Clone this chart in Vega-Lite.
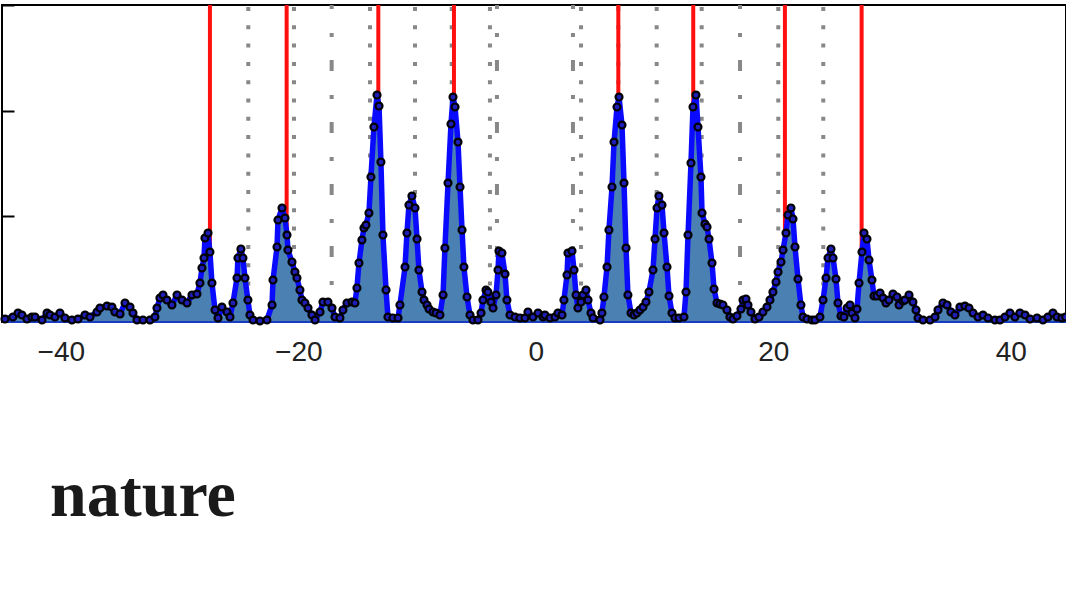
{
  "$schema": "https://vega.github.io/schema/vega-lite/v6.json",
  "width": 1064,
  "height": 317,
  "autosize": {"type": "none"},
  "padding": {"left": 2, "top": 5, "right": 0, "bottom": 278},
  "background": "white",
  "config": {"view": {"stroke": "#000000", "strokeWidth": 2}},
  "title": {"text": "nature", "orient": "bottom", "anchor": "start", "frame": "group", "font": "Liberation Serif", "fontWeight": "bold", "fontSize": 66, "color": "#1a1a1a", "offset": 150, "dx": 48, "baseline": "alphabetic"},
  "datasets": {
    "rules": [
      {"x": -27.44, "kind": "red"}, {"x": -20.98, "kind": "red"}, {"x": -13.26, "kind": "red"}, {"x": -6.89, "kind": "red"},
      {"x": 6.95, "kind": "red"}, {"x": 13.26, "kind": "red"}, {"x": 20.98, "kind": "red"}, {"x": 27.44, "kind": "red"},
      {"x": -24.21, "kind": "dot"}, {"x": -20.36, "kind": "dot"}, {"x": -13.96, "kind": "dot"}, {"x": -10.17, "kind": "dot"},
      {"x": -7.08, "kind": "dot"}, {"x": -3.86, "kind": "dot"}, {"x": 3.81, "kind": "dot"}, {"x": 6.95, "kind": "dot"},
      {"x": 10.18, "kind": "dot"}, {"x": 13.97, "kind": "dot"}, {"x": 20.42, "kind": "dot"}, {"x": 24.21, "kind": "dot"},
      {"x": -17.19, "kind": "dashdot"}, {"x": -3.27, "kind": "dashdot"}, {"x": 3.13, "kind": "dashdot"}, {"x": 17.2, "kind": "dashdot"}
    ],
    "pts": [
      {"x":-44.70,"y":0.028},{"x":-44.03,"y":0.047},{"x":-43.60,"y":0.085},{"x":-43.27,"y":0.066},{"x":-42.85,"y":0.028},{"x":-42.43,"y":0.047},{"x":-42.17,"y":0.047},{"x":-41.58,"y":0.019},{"x":-41.16,"y":0.085},{"x":-40.91,"y":0.066},{"x":-40.49,"y":0.047},{"x":-40.07,"y":0.085},{"x":-39.65,"y":0.038},{"x":-39.06,"y":0.019},{"x":-38.55,"y":0.028},{"x":-37.96,"y":0.066},{"x":-37.54,"y":0.047},{"x":-36.95,"y":0.095},{"x":-36.70,"y":0.132},{"x":-36.11,"y":0.151},{"x":-35.69,"y":0.142},{"x":-35.44,"y":0.095},{"x":-35.01,"y":0.076},{"x":-34.59,"y":0.180},{"x":-34.17,"y":0.142},{"x":-33.92,"y":0.085},{"x":-33.58,"y":0.019},{"x":-33.08,"y":0.019},{"x":-32.49,"y":0.019},{"x":-32.07,"y":0.047},{"x":-31.90,"y":0.132},{"x":-31.65,"y":0.227},{"x":-31.39,"y":0.256},{"x":-31.06,"y":0.208},{"x":-30.64,"y":0.161},{"x":-30.21,"y":0.256},{"x":-29.79,"y":0.208},{"x":-29.37,"y":0.180},{"x":-28.95,"y":0.256},{"x":-28.53,"y":0.265},{"x":-28.28,"y":0.369},{"x":-28.11,"y":0.511},{"x":-27.94,"y":0.606},{"x":-27.86,"y":0.795},{"x":-27.60,"y":0.842},{"x":-27.44,"y":0.662},{"x":-27.27,"y":0.369},{"x":-27.01,"y":0.114},{"x":-26.76,"y":0.038},{"x":-26.43,"y":0.142},{"x":-26.00,"y":0.095},{"x":-25.75,"y":0.047},{"x":-25.50,"y":0.180},{"x":-25.16,"y":0.416},{"x":-25.08,"y":0.606},{"x":-24.83,"y":0.691},{"x":-24.66,"y":0.606},{"x":-24.49,"y":0.416},{"x":-24.24,"y":0.208},{"x":-24.07,"y":0.066},{"x":-23.81,"y":0.019},{"x":-23.23,"y":0.01},{"x":-22.64,"y":0.019},{"x":-22.21,"y":0.161},{"x":-22.13,"y":0.397},{"x":-21.79,"y":0.710},{"x":-21.71,"y":0.965},{"x":-21.37,"y":1.079},{"x":-21.12,"y":0.984},{"x":-20.95,"y":0.823},{"x":-20.87,"y":0.681},{"x":-20.53,"y":0.568},{"x":-20.28,"y":0.473},{"x":-20.11,"y":0.416},{"x":-19.86,"y":0.303},{"x":-19.69,"y":0.208},{"x":-19.44,"y":0.180},{"x":-19.18,"y":0.132},{"x":-18.85,"y":0.066},{"x":-18.59,"y":0.019},{"x":-18.17,"y":0.095},{"x":-17.92,"y":0.189},{"x":-17.50,"y":0.189},{"x":-17.16,"y":0.132},{"x":-16.91,"y":0.047},{"x":-16.49,"y":0.038},{"x":-16.24,"y":0.114},{"x":-15.90,"y":0.180},{"x":-15.48,"y":0.189},{"x":-15.23,"y":0.180},{"x":-15.06,"y":0.322},{"x":-14.89,"y":0.558},{"x":-14.64,"y":0.776},{"x":-14.47,"y":0.890},{"x":-14.30,"y":0.918},{"x":-14.05,"y":1.032},{"x":-13.88,"y":1.372},{"x":-13.63,"y":1.845},{"x":-13.37,"y":2.148},{"x":-13.20,"y":2.044},{"x":-13.04,"y":1.514},{"x":-12.87,"y":0.823},{"x":-12.61,"y":0.303},{"x":-12.45,"y":0.047},{"x":-12.03,"y":0.038},{"x":-11.60,"y":0.038},{"x":-11.44,"y":0.161},{"x":-11.01,"y":0.520},{"x":-10.85,"y":0.842},{"x":-10.68,"y":1.107},{"x":-10.43,"y":1.192},{"x":-10.17,"y":1.079},{"x":-10.00,"y":0.785},{"x":-9.84,"y":0.492},{"x":-9.58,"y":0.284},{"x":-9.41,"y":0.208},{"x":-9.16,"y":0.161},{"x":-8.99,"y":0.123},{"x":-8.66,"y":0.095},{"x":-8.40,"y":0.085},{"x":-8.07,"y":0.066},{"x":-7.81,"y":0.256},{"x":-7.65,"y":0.700},{"x":-7.39,"y":1.315},{"x":-7.14,"y":1.874},{"x":-6.97,"y":2.129},{"x":-6.80,"y":2.035},{"x":-6.55,"y":1.703},{"x":-6.38,"y":1.278},{"x":-6.21,"y":0.871},{"x":-6.05,"y":0.520},{"x":-5.79,"y":0.237},{"x":-5.54,"y":0.066},{"x":-5.29,"y":0.019},{"x":-4.87,"y":0.019},{"x":-4.61,"y":0.085},{"x":-4.45,"y":0.208},{"x":-4.19,"y":0.303},{"x":-4.03,"y":0.284},{"x":-3.77,"y":0.189},{"x":-3.60,"y":0.132},{"x":-3.35,"y":0.256},{"x":-3.18,"y":0.492},{"x":-3.10,"y":0.672},{"x":-2.85,"y":0.653},{"x":-2.59,"y":0.454},{"x":-2.43,"y":0.208},{"x":-2.17,"y":0.066},{"x":-1.75,"y":0.047},{"x":-1.33,"y":0.038},{"x":-0.91,"y":0.038},{"x":-0.66,"y":0.095},{"x":-0.24,"y":0.047},{"x":0.19,"y":0.085},{"x":0.61,"y":0.047},{"x":0.77,"y":0.066},{"x":1.20,"y":0.038},{"x":1.62,"y":0.047},{"x":1.87,"y":0.085},{"x":2.21,"y":0.066},{"x":2.37,"y":0.208},{"x":2.63,"y":0.445},{"x":2.71,"y":0.653},{"x":3.05,"y":0.672},{"x":3.22,"y":0.492},{"x":3.39,"y":0.256},{"x":3.55,"y":0.132},{"x":3.81,"y":0.189},{"x":3.97,"y":0.256},{"x":4.23,"y":0.303},{"x":4.40,"y":0.208},{"x":4.65,"y":0.085},{"x":4.82,"y":0.038},{"x":5.41,"y":0.019},{"x":5.57,"y":0.085},{"x":5.74,"y":0.237},{"x":6.00,"y":0.520},{"x":6.16,"y":0.871},{"x":6.42,"y":1.278},{"x":6.59,"y":1.703},{"x":6.84,"y":2.035},{"x":7.01,"y":2.129},{"x":7.26,"y":1.864},{"x":7.43,"y":1.315},{"x":7.60,"y":0.700},{"x":7.76,"y":0.256},{"x":8.02,"y":0.085},{"x":8.27,"y":0.066},{"x":8.52,"y":0.085},{"x":8.77,"y":0.114},{"x":9.03,"y":0.142},{"x":9.28,"y":0.189},{"x":9.53,"y":0.284},{"x":9.87,"y":0.492},{"x":10.04,"y":0.785},{"x":10.21,"y":1.079},{"x":10.37,"y":1.192},{"x":10.63,"y":1.107},{"x":10.80,"y":0.842},{"x":11.05,"y":0.520},{"x":11.22,"y":0.246},{"x":11.47,"y":0.085},{"x":11.72,"y":0.038},{"x":12.06,"y":0.038},{"x":12.48,"y":0.047},{"x":12.65,"y":0.284},{"x":12.82,"y":0.823},{"x":13.07,"y":1.505},{"x":13.24,"y":2.035},{"x":13.49,"y":2.148},{"x":13.66,"y":1.845},{"x":13.91,"y":1.372},{"x":14.00,"y":1.032},{"x":14.25,"y":0.927},{"x":14.42,"y":0.899},{"x":14.59,"y":0.785},{"x":14.84,"y":0.558},{"x":15.01,"y":0.312},{"x":15.26,"y":0.180},{"x":15.51,"y":0.170},{"x":15.76,"y":0.161},{"x":16.10,"y":0.114},{"x":16.35,"y":0.047},{"x":16.61,"y":0.028},{"x":16.94,"y":0.057},{"x":17.28,"y":0.123},{"x":17.45,"y":0.208},{"x":17.70,"y":0.218},{"x":17.87,"y":0.161},{"x":18.12,"y":0.095},{"x":18.46,"y":0.028},{"x":18.80,"y":0.047},{"x":19.13,"y":0.095},{"x":19.47,"y":0.142},{"x":19.72,"y":0.208},{"x":19.97,"y":0.284},{"x":20.23,"y":0.379},{"x":20.40,"y":0.473},{"x":20.65,"y":0.568},{"x":20.82,"y":0.681},{"x":21.07,"y":0.842},{"x":21.24,"y":1.013},{"x":21.49,"y":1.079},{"x":21.66,"y":0.975},{"x":21.83,"y":0.710},{"x":22.08,"y":0.407},{"x":22.33,"y":0.161},{"x":22.50,"y":0.047},{"x":22.84,"y":0.028},{"x":23.26,"y":0.019},{"x":23.51,"y":0.019},{"x":23.93,"y":0.047},{"x":24.19,"y":0.208},{"x":24.44,"y":0.416},{"x":24.61,"y":0.606},{"x":24.86,"y":0.691},{"x":25.03,"y":0.606},{"x":25.28,"y":0.407},{"x":25.45,"y":0.180},{"x":25.70,"y":0.057},{"x":25.95,"y":0.047},{"x":26.21,"y":0.132},{"x":26.46,"y":0.161},{"x":26.63,"y":0.085},{"x":26.88,"y":0.038},{"x":27.05,"y":0.123},{"x":27.22,"y":0.369},{"x":27.47,"y":0.662},{"x":27.64,"y":0.842},{"x":27.89,"y":0.785},{"x":28.06,"y":0.587},{"x":28.31,"y":0.397},{"x":28.48,"y":0.246},{"x":28.73,"y":0.246},{"x":28.99,"y":0.274},{"x":29.24,"y":0.227},{"x":29.49,"y":0.180},{"x":29.74,"y":0.208},{"x":30.08,"y":0.265},{"x":30.42,"y":0.237},{"x":30.59,"y":0.161},{"x":30.92,"y":0.199},{"x":31.09,"y":0.208},{"x":31.43,"y":0.256},{"x":31.76,"y":0.189},{"x":32.02,"y":0.114},{"x":32.19,"y":0.038},{"x":32.61,"y":0.019},{"x":33.20,"y":0.019},{"x":33.62,"y":0.047},{"x":33.87,"y":0.114},{"x":34.29,"y":0.180},{"x":34.63,"y":0.161},{"x":34.96,"y":0.095},{"x":35.30,"y":0.066},{"x":35.72,"y":0.142},{"x":36.14,"y":0.151},{"x":36.48,"y":0.132},{"x":36.82,"y":0.085},{"x":37.24,"y":0.047},{"x":37.66,"y":0.066},{"x":38.08,"y":0.038},{"x":38.67,"y":0.019},{"x":39.09,"y":0.019},{"x":39.51,"y":0.047},{"x":39.93,"y":0.085},{"x":40.35,"y":0.047},{"x":40.77,"y":0.085},{"x":41.20,"y":0.066},{"x":41.62,"y":0.028},{"x":42.21,"y":0.038},{"x":42.71,"y":0.019},{"x":43.13,"y":0.047},{"x":43.55,"y":0.085},{"x":43.89,"y":0.047},{"x":44.31,"y":0.038},{"x":44.62,"y":0.047}
    ]
  },
  "layer": [
    {
      "data": {"name": "rules"},
      "transform": [{"filter": "datum.kind === 'dot'"}],
      "mark": {"type": "rule", "color": "#888888", "strokeWidth": 4, "strokeDash": [4, 14.3], "strokeDashOffset": -2},
      "encoding": {
        "x": {"field": "x", "type": "quantitative", "scale": {"domain": [-44.95, 44.65], "nice": false, "zero": false},
          "axis": {"values": [-40, -20, 0, 20, 40], "title": null, "grid": false, "domain": false, "tickSize": -10, "tickWidth": 1.5, "tickColor": "#000000", "labelFont": "Liberation Sans", "labelFontSize": 28, "labelColor": "#222222", "labelPadding": 26}}
      }
    },
    {
      "data": {"name": "rules"},
      "transform": [{"filter": "datum.kind === 'dashdot'"}],
      "mark": {"type": "rule", "color": "#888888", "strokeWidth": 4, "strokeDash": [11, 24, 4, 23], "strokeDashOffset": 7},
      "encoding": {"x": {"field": "x", "type": "quantitative"}}
    },
    {
      "data": {"name": "rules"},
      "transform": [{"filter": "datum.kind === 'red'"}],
      "mark": {"type": "rule", "color": "#ff1010", "strokeWidth": 4},
      "encoding": {"x": {"field": "x", "type": "quantitative"}}
    },
    {
      "data": {"name": "pts"},
      "mark": {"type": "area", "color": "#4a80b2", "opacity": 1},
      "encoding": {
        "x": {"field": "x", "type": "quantitative"},
        "y": {"field": "y", "type": "quantitative", "scale": {"domain": [0, 3], "nice": false},
          "axis": {"values": [1, 2, 3], "labels": false, "title": null, "grid": false, "domain": false, "tickSize": -12, "tickWidth": 2, "tickColor": "#000000"}}
      }
    },
    {
      "data": {"name": "pts"},
      "mark": {"type": "rule", "color": "#1a3cc0", "strokeWidth": 2},
      "encoding": {"y": {"datum": 0}}
    },
    {
      "data": {"name": "pts"},
      "mark": {"type": "line", "color": "#0a0aff", "strokeWidth": 5.5, "strokeJoin": "round"},
      "encoding": {
        "x": {"field": "x", "type": "quantitative"},
        "y": {"field": "y", "type": "quantitative"}
      }
    },
    {
      "data": {"name": "pts"},
      "mark": {"type": "point", "shape": "circle", "filled": true, "fill": "#1f1fb8", "stroke": "#000000", "strokeWidth": 2.2, "size": 48, "opacity": 1},
      "encoding": {
        "x": {"field": "x", "type": "quantitative"},
        "y": {"field": "y", "type": "quantitative"}
      }
    }
  ]
}
